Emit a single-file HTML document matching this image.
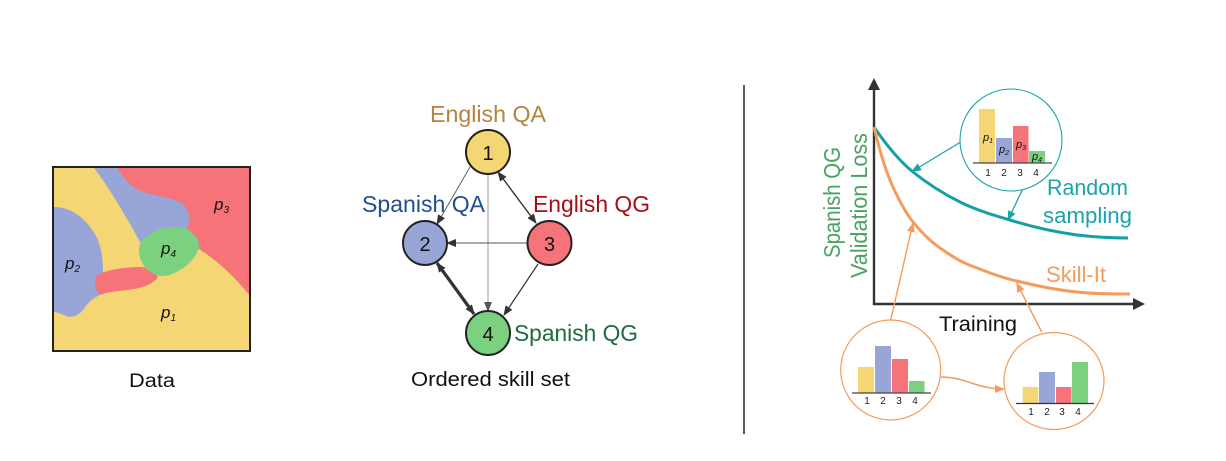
<!DOCTYPE html>
<html><head><meta charset="utf-8"><style>
html,body{margin:0;padding:0;background:#fff;width:1226px;height:461px;overflow:hidden}
svg{display:block}
text{font-family:"Liberation Sans",sans-serif}
.i{font-style:italic}
.t{font-size:10px;fill:#222;text-anchor:middle}
</style></head><body>
<svg width="1226" height="461" viewBox="0 0 1226 461" xmlns="http://www.w3.org/2000/svg">
<defs>
<marker id="k" markerWidth="12" markerHeight="10" refX="9" refY="4" orient="auto-start-reverse" markerUnits="userSpaceOnUse"><path d="M0 0L10 4L0 8z" fill="#333"/></marker>
<marker id="kg" markerWidth="12" markerHeight="10" refX="9" refY="4" orient="auto" markerUnits="userSpaceOnUse"><path d="M0 0L10 4L0 8z" fill="#555"/></marker>
<marker id="te" markerWidth="12" markerHeight="10" refX="9" refY="4" orient="auto" markerUnits="userSpaceOnUse"><path d="M0 0L10 4L0 8z" fill="#1ba3ab"/></marker>
<marker id="or" markerWidth="12" markerHeight="10" refX="9" refY="4" orient="auto" markerUnits="userSpaceOnUse"><path d="M0 0L10 4L0 8z" fill="#f59b5c"/></marker>
</defs>

<!-- Data panel -->
<rect x="53" y="167" width="197" height="184" fill="#f4d675"/>
<path d="M94 168C108 186 126 216 140 242L150 262L190 232L190 205L140 185L117 168Z" fill="#97a6d6"/>
<path d="M117 168C124 178 130 187 141 191C156 197 172 197 181 203C189 208 192 220 186 232L199 249C219 262 235 277 250 296L250 168Z" fill="#f6737a"/>
<path d="M54 207C70 207 84 217 93 231C100 241 103 254 103 272L95 282L100 295C91 299 87 304 83 310C78 316 72 318 66 316C61 314 58 312 54 312Z" fill="#97a6d6"/>
<path d="M95 282C95 276 99 273 104 272C118 268 130 267 141 267C149 267 155 271 158 277C153 284 145 287 134 289C122 291 110 291 100 295C97 291 95 287 95 282Z" fill="#f6737a"/>
<path d="M139 250C139 243 143 238 150 234C158 229 166 227 173 227C181 227 188 228 192 233C197 237 199 241 199 246C199 252 193 260 186 266C178 272 169 276 163 276C155 276 149 272 145 267C141 262 139 256 139 250Z" fill="#7bd17f"/>
<rect x="53" y="167" width="197" height="184" fill="none" stroke="#222" stroke-width="2"/>
<text x="214" y="210" class="i" font-size="17" fill="#111">p<tspan font-size="10" dy="3">3</tspan></text>
<text x="65" y="269" class="i" font-size="17" fill="#111">p<tspan font-size="10" dy="3">2</tspan></text>
<text x="161" y="254" class="i" font-size="17" fill="#111">p<tspan font-size="10" dy="3">4</tspan></text>
<text x="161" y="318" class="i" font-size="17" fill="#111">p<tspan font-size="10" dy="3">1</tspan></text>
<text x="129" y="387" font-size="19" fill="#111" textLength="46" lengthAdjust="spacingAndGlyphs">Data</text>

<!-- Graph -->
<g fill="none">
<line x1="488" y1="174" x2="488" y2="311" stroke="#aaa" stroke-width="1.2" marker-end="url(#kg)"/>
<line x1="470" y1="167" x2="437" y2="224" stroke="#555" stroke-width="0.9" marker-end="url(#k)"/>
<line x1="527" y1="243" x2="447" y2="243" stroke="#555" stroke-width="0.9" marker-end="url(#k)"/>
<line x1="498" y1="172" x2="536" y2="223" stroke="#333" stroke-width="1.4" marker-start="url(#k)" marker-end="url(#k)"/>
<line x1="538" y1="264" x2="504" y2="315" stroke="#333" stroke-width="1.2" marker-end="url(#k)"/>
<line x1="437" y1="263" x2="474" y2="314" stroke="#333" stroke-width="3.2" marker-start="url(#k)" marker-end="url(#k)"/>
</g>
<g stroke="#222" stroke-width="2">
<circle cx="488" cy="152" r="22" fill="#f4d675"/>
<circle cx="425" cy="243" r="22" fill="#97a6d6"/>
<circle cx="549.5" cy="243" r="22" fill="#f6737a"/>
<circle cx="488" cy="333" r="22" fill="#7bd17f"/>
</g>
<g font-size="20" fill="#111" text-anchor="middle">
<text x="488" y="160">1</text><text x="425" y="251">2</text><text x="549.5" y="251">3</text><text x="488" y="341">4</text>
</g>
<g font-size="23">
<text x="430" y="122" fill="#b5833c" textLength="116" lengthAdjust="spacingAndGlyphs">English QA</text>
<text x="362" y="212" fill="#1f4e92" textLength="123" lengthAdjust="spacingAndGlyphs">Spanish QA</text>
<text x="533" y="212" fill="#a50f15" textLength="117" lengthAdjust="spacingAndGlyphs">English QG</text>
<text x="514" y="341" fill="#1f6b3f" textLength="124" lengthAdjust="spacingAndGlyphs">Spanish QG</text>
</g>
<text x="411" y="386" font-size="20" fill="#111" textLength="159" lengthAdjust="spacingAndGlyphs">Ordered skill set</text>

<!-- Divider -->
<line x1="744" y1="85" x2="744" y2="434" stroke="#333" stroke-width="1.6"/>

<!-- Chart axes -->
<path d="M874 88V304H1134" fill="none" stroke="#333" stroke-width="2.4"/>
<path d="M868 90L874 78L880 90Z" fill="#333"/>
<path d="M1133 298L1145 304L1133 310Z" fill="#333"/>
<text transform="translate(840,258) rotate(-90)" font-size="23" fill="#4aa262" textLength="111" lengthAdjust="spacingAndGlyphs">Spanish QG</text>
<text transform="translate(867,278) rotate(-90)" font-size="23" fill="#4aa262" textLength="145" lengthAdjust="spacingAndGlyphs">Validation Loss</text>
<text x="939" y="331" font-size="21" fill="#111" textLength="78" lengthAdjust="spacingAndGlyphs">Training</text>

<!-- Curves -->
<path d="M874 127C885 143 898 160 913 172C928 184 944 194 960 202C976 210 993 215 1010 220C1032 227 1055 232 1077 235C1094 237 1111 238 1128 238" fill="none" stroke="#14a0a6" stroke-width="3"/>
<path d="M874 127C879 148 885 170 893 187C898 198 905 212 913 222C922 233 932 243 943 250C954 258 965 264 977 268C990 273 1003 278 1017 281C1037 286 1057 290 1077 292C1095 294 1112 294 1130 294" fill="none" stroke="#f59b5c" stroke-width="3"/>
<text x="1047" y="195" font-size="22" fill="#1ba3ab" textLength="81" lengthAdjust="spacingAndGlyphs">Random</text>
<text x="1043" y="223" font-size="22" fill="#1ba3ab" textLength="89" lengthAdjust="spacingAndGlyphs">sampling</text>
<text x="1046" y="282" font-size="22" fill="#f59b5c" textLength="60" lengthAdjust="spacingAndGlyphs">Skill-It</text>

<!-- Connectors -->
<line x1="960.7" y1="142" x2="912" y2="171.5" stroke="#1ba3ab" stroke-width="1.3" marker-end="url(#te)"/>
<line x1="1022.7" y1="189" x2="1008" y2="220" stroke="#1ba3ab" stroke-width="1.3" marker-end="url(#te)"/>
<line x1="890.7" y1="320" x2="913" y2="223" stroke="#f59b5c" stroke-width="1.4" marker-end="url(#or)"/>
<line x1="1041.7" y1="332" x2="1016.7" y2="283" stroke="#f59b5c" stroke-width="1.4" marker-end="url(#or)"/>
<path d="M941 377C966 377 976 389 1004 389" fill="none" stroke="#f59b5c" stroke-width="1.5" marker-end="url(#or)"/>

<!-- Random sampling circle -->
<circle cx="1011" cy="140" r="51" fill="#fff" stroke="#1ba3ab" stroke-width="1.1"/>
<rect x="979" y="109" width="16" height="54" fill="#f4d675"/>
<rect x="996" y="138" width="16" height="25" fill="#97a6d6"/>
<rect x="1013" y="126" width="15.5" height="37" fill="#f6737a"/>
<rect x="1029" y="151" width="16" height="12" fill="#7bd17f"/>
<line x1="973" y1="163" x2="1052" y2="163" stroke="#444" stroke-width="1.2"/>
<g font-size="11" fill="#111" font-style="italic">
<text x="983" y="141">p<tspan font-size="7" dy="2">1</tspan></text>
<text x="999" y="153">p<tspan font-size="7" dy="2">2</tspan></text>
<text x="1016" y="148">p<tspan font-size="7" dy="2">3</tspan></text>
<text x="1032" y="160">p<tspan font-size="7" dy="2">4</tspan></text>
</g>
<text class="t" x="988" y="176">1</text><text class="t" x="1004" y="176">2</text><text class="t" x="1020" y="176">3</text><text class="t" x="1036" y="176">4</text>

<!-- Bottom left circle -->
<circle cx="890.7" cy="370" r="50" fill="#fff" stroke="#f59b5c" stroke-width="1.2"/>
<rect x="858" y="367" width="16" height="26" fill="#f4d675"/>
<rect x="875" y="346" width="16" height="47" fill="#97a6d6"/>
<rect x="892" y="359" width="16" height="34" fill="#f6737a"/>
<rect x="909" y="381" width="15.5" height="12" fill="#7bd17f"/>
<line x1="852" y1="393" x2="931" y2="393" stroke="#444" stroke-width="1.2"/>
<text class="t" x="867" y="404">1</text><text class="t" x="883" y="404">2</text><text class="t" x="899" y="404">3</text><text class="t" x="915" y="404">4</text>

<!-- Bottom right circle -->
<ellipse cx="1054" cy="381" rx="50" ry="48.5" fill="#fff" stroke="#f59b5c" stroke-width="1.2"/>
<rect x="1022.7" y="387" width="15.6" height="16" fill="#f4d675"/>
<rect x="1039" y="372" width="16" height="31" fill="#97a6d6"/>
<rect x="1056" y="387" width="15.5" height="16" fill="#f6737a"/>
<rect x="1072" y="362" width="16" height="41" fill="#7bd17f"/>
<line x1="1016" y1="403.5" x2="1094" y2="403.5" stroke="#333" stroke-width="1.2"/>
<text class="t" x="1031" y="415">1</text><text class="t" x="1047" y="415">2</text><text class="t" x="1062" y="415">3</text><text class="t" x="1078" y="415">4</text>
</svg>
</body></html>
